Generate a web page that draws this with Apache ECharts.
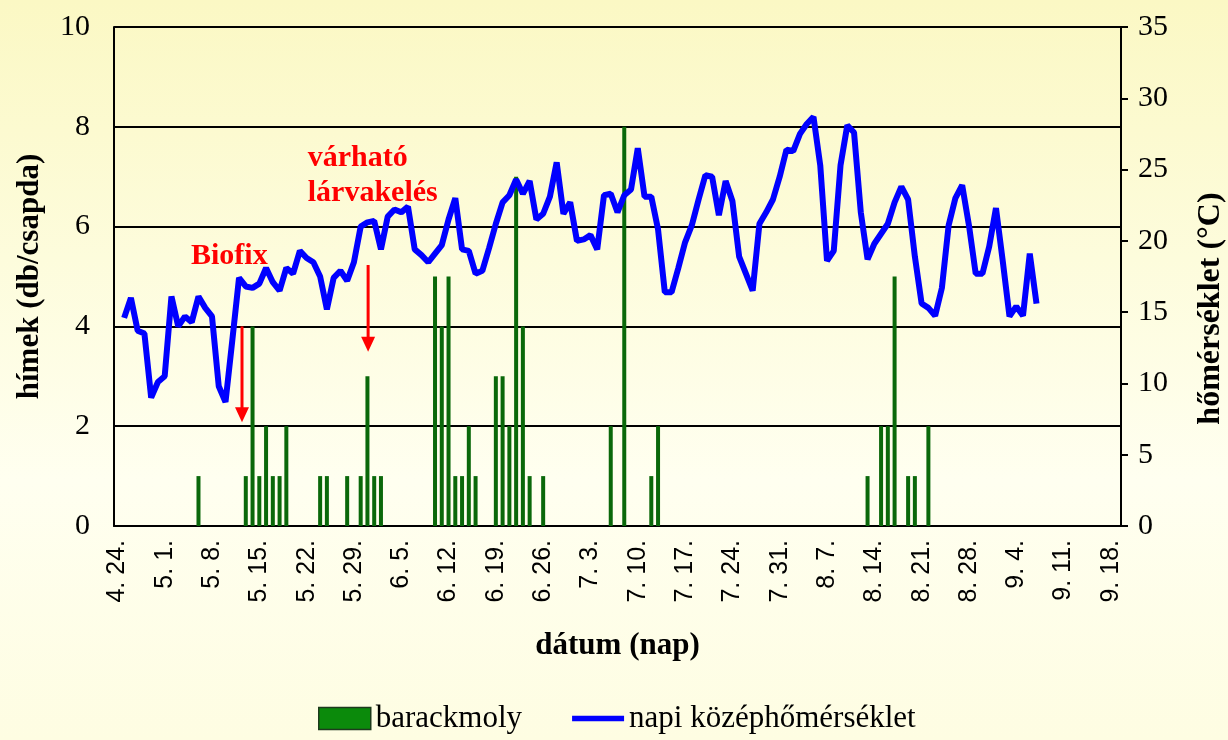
<!DOCTYPE html>
<html>
<head>
<meta charset="utf-8">
<title>barackmoly</title>
<script src="https://cdn.jsdelivr.net/npm/echarts@6/dist/echarts.min.js"></script>
<style>
  html, body { margin: 0; padding: 0; }
  body { background: linear-gradient(to bottom, #fbf8c4 0%, #fdfcdc 35%, #fffff0 65%, #fefde2 100%); }
  #chart { width: 1228px; height: 740px; }
</style>
</head>
<body>
<div id="chart"></div>
<script>
// napok 4.24. - 9.19. (hónap, első nap, utolsó nap)
const monthSpans = [[4, 24, 30], [5, 1, 31], [6, 1, 30], [7, 1, 31], [8, 1, 31], [9, 1, 19]];
const days = [];
monthSpans.forEach(([m, from, to]) => {
  for (let d = from; d <= to; d++) days.push(m + '. ' + d + '.');
});

// barackmoly hímek (db/csapda), egy sor = egy hét
const mothCounts = [
  0, 0, 0, 0, 0, 0, 0,
  0, 0, 0, 0, 0, 1, 0,
  0, 0, 0, 0, 0, 1, 4,
  1, 2, 1, 1, 2, 0, 0,
  0, 0, 1, 1, 0, 0, 1,
  0, 1, 3, 1, 1, 0, 0,
  0, 0, 0, 0, 0, 5, 4,
  5, 1, 1, 2, 1, 0, 0,
  3, 3, 2, 7, 4, 1, 0,
  1, 0, 0, 0, 0, 0, 0,
  0, 0, 0, 2, 0, 8, 0,
  0, 0, 1, 2, 0, 0, 0,
  0, 0, 0, 0, 0, 0, 0,
  0, 0, 0, 0, 0, 0, 0,
  0, 0, 0, 0, 0, 0, 0,
  0, 0, 0, 0, 0, 0, 1,
  0, 2, 2, 5, 0, 1, 1,
  0, 2, 0, 0, 0, 0, 0,
  0, 0, 0, 0, 0, 0, 0,
  0, 0, 0, 0, 0, 0, 0,
  0, 0, 0, 0, 0, 0, 0,
  0, 0
];

// napi középhőmérséklet (°C)
const dailyTemp = [
  null, 14.6, 16.0, 13.7, 13.5, 9.0, 10.1,
  10.5, 16.1, 14.0, 14.7, 14.3, 16.1, 15.3,
  14.7, 9.8, 8.7, 13.0, 17.4, 16.8, 16.7,
  17.0, 18.1, 17.1, 16.5, 18.1, 17.7, 19.3,
  18.8, 18.5, 17.5, 15.2, 17.4, 17.9, 17.2,
  18.5, 21.0, 21.3, 21.4, 19.4, 21.7, 22.2,
  22.0, 22.4, 19.4, 19.0, 18.5, 19.1, 19.7,
  21.5, 23.0, 19.4, 19.3, 17.7, 17.9, 19.5,
  21.2, 22.7, 23.2, 24.3, 23.3, 24.2, 21.5,
  21.9, 23.1, 25.5, 21.9, 22.7, 20.0, 20.1,
  20.4, 19.4, 23.2, 23.3, 22.0, 23.2, 23.6,
  26.5, 23.1, 23.1, 20.8, 16.4, 16.4, 18.1,
  19.9, 21.1, 22.9, 24.6, 24.5, 21.8, 24.2,
  22.8, 18.9, 17.7, 16.5, 21.2, 22.0, 22.9,
  24.5, 26.4, 26.3, 27.5, 28.2, 28.7, 25.3,
  18.6, 19.3, 25.3, 28.1, 27.6, 22.0, 18.7,
  19.8, 20.5, 21.2, 22.7, 23.8, 22.9, 18.9,
  15.6, 15.3, 14.75, 16.7, 21.1, 23.0, 23.9,
  21.1, 17.7, 17.7, 19.6, 22.3, 18.6, 14.7,
  15.4, 14.75, 19.1, 15.6, null, null, null,
  null, null, null, null, null, null, null,
  null, null
];

// feliratok: [nap index, db/csapda]
const biofixArrow = { x: 18.44, from: 4.0, to: 2.08 };
const larvaArrow = { x: 37.1, from: 5.23, to: 3.49 };

const serif = 'Liberation Serif';
const chart = echarts.init(document.getElementById('chart'));

chart.setOption({
  animation: false,
  backgroundColor: 'transparent',
  textStyle: { fontFamily: serif, color: '#000' },
  grid: { left: 114, right: 107, top: 27, bottom: 214, outerBoundsMode: 'none' },
  legend: {
    left: 313,
    top: 698,
    itemWidth: 52,
    itemHeight: 22,
    itemGap: 50,
    textStyle: { fontFamily: serif, fontSize: 31, color: '#000' },
    data: [
      { name: 'barackmoly', icon: 'rect', itemStyle: { color: '#0b8a0b', borderColor: '#1d3a1d', borderWidth: 1.5 } },
      { name: 'napi középhőmérséklet', icon: 'path://M0,0H56V6H0Z', itemStyle: { color: '#0000ff', borderWidth: 0 } }
    ]
  },
  xAxis: {
    type: 'category',
    data: days,
    boundaryGap: true,
    axisLine: { lineStyle: { color: '#000', width: 2 } },
    axisTick: { interval: 6, length: 8, lineStyle: { color: '#000', width: 2 } },
    axisLabel: {
      interval: 6,
      rotate: 90,
      margin: 14,
      fontFamily: 'Liberation Sans',
      fontSize: 25,
      color: '#000'
    },
    name: 'dátum (nap)',
    nameLocation: 'middle',
    nameGap: 104,
    nameTextStyle: { fontFamily: serif, fontWeight: 'bold', fontSize: 31, color: '#000' }
  },
  yAxis: [
    {
      type: 'value',
      min: 0,
      max: 10,
      interval: 2,
      position: 'left',
      axisLine: { show: true, lineStyle: { color: '#000', width: 2 } },
      axisTick: { show: false },
      splitLine: { show: true, lineStyle: { color: '#000', width: 2 } },
      axisLabel: { fontFamily: serif, fontSize: 30, color: '#000', margin: 24 },
      name: 'hímek (db/csapda)',
      nameLocation: 'middle',
      nameRotate: 90,
      nameGap: 69,
      nameTextStyle: { fontFamily: serif, fontWeight: 'bold', fontSize: 31, color: '#000' }
    },
    {
      type: 'value',
      min: 0,
      max: 35,
      interval: 5,
      position: 'right',
      axisLine: { show: true, lineStyle: { color: '#000', width: 2 } },
      axisTick: { show: true, length: 7, lineStyle: { color: '#000', width: 2 } },
      splitLine: { show: false },
      axisLabel: { fontFamily: serif, fontSize: 30, color: '#000', margin: 17 },
      name: 'hőmérséklet (°C)',
      nameLocation: 'middle',
      nameRotate: 90,
      nameGap: 74,
      nameTextStyle: { fontFamily: serif, fontWeight: 'bold', fontSize: 32, color: '#000', padding: [0, 64, 0, 0] }
    }
  ],
  series: [
    {
      name: 'barackmoly',
      type: 'bar',
      yAxisIndex: 0,
      data: mothCounts,
      barWidth: 4,
      itemStyle: { color: '#0a680a' }
    },
    {
      name: 'napi középhőmérséklet',
      type: 'line',
      yAxisIndex: 1,
      data: dailyTemp,
      symbol: 'none',
      showSymbol: false,
      lineStyle: { color: '#0000ff', width: 6 },
      itemStyle: { color: '#0000ff' }
    }
  ]
});

// adat-koordinátából képpont (tört nap indexszel)
function at(i, v) {
  const i0 = Math.floor(i);
  const a = chart.convertToPixel({ seriesIndex: 0 }, [i0, v]);
  const b = chart.convertToPixel({ seriesIndex: 0 }, [i0 + 1, v]);
  return [a[0] + (b[0] - a[0]) * (i - i0), a[1]];
}

function arrow(spec) {
  const top = at(spec.x, spec.from);
  const tip = at(spec.x, spec.to);
  return [
    {
      type: 'line',
      shape: { x1: top[0], y1: top[1], x2: tip[0], y2: tip[1] - 14 },
      style: { stroke: '#ff0000', lineWidth: 3 }
    },
    {
      type: 'polygon',
      shape: { points: [[tip[0] - 7, tip[1] - 15], [tip[0] + 7, tip[1] - 15], [tip[0], tip[1]]] },
      style: { fill: '#ff0000' }
    }
  ];
}

function note(text, i, v, align) {
  const p = at(i, v);
  return {
    type: 'text',
    style: {
      text: text,
      x: p[0],
      y: p[1],
      align: align,
      verticalAlign: 'middle',
      fill: '#ff0000',
      font: 'bold 30px "Liberation Serif"'
    }
  };
}

chart.setOption({
  graphic: [
    note('Biofix', 16.56, 5.4, 'center'),
    note('várható', 28.17, 7.37, 'left'),
    note('lárvakelés', 28.17, 6.67, 'left')
  ].concat(arrow(biofixArrow), arrow(larvaArrow))
});
</script>
</body>
</html>
